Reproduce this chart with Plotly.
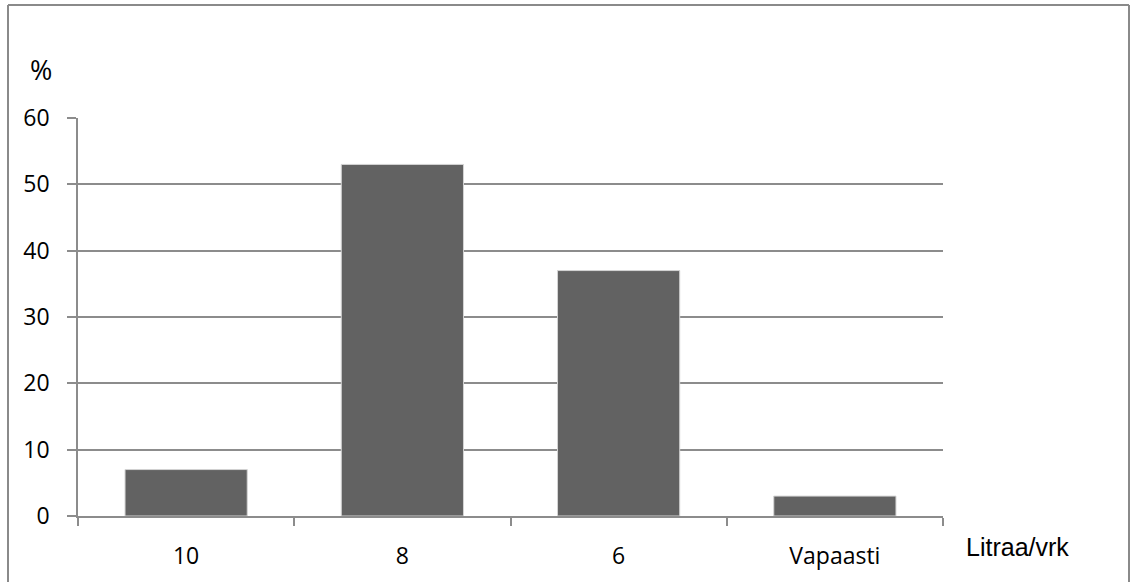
import plotly.graph_objects as go

categories = ["10", "8", "6", "Vapaasti"]
values = [7, 53, 37, 3]
y_ticks = [0, 10, 20, 30, 40, 50, 60]

W, H = 1132, 582
L, R, T, B = 78, 943, 118, 516

fig = go.Figure()
fig.add_trace(go.Bar(
    x=categories, y=values,
    marker=dict(color="#626262", line=dict(color="#d4d4d4", width=1)),
    width=0.565,
    hoverinfo="skip",
))

def px(x):
    return (x - L) / (R - L)

def py(y):
    return (B - y) / (B - T)

border = dict(color="#8a8a8a", width=2)
shapes = [
    dict(type="line", xref="paper", yref="paper", x0=px(8), x1=px(8), y0=py(5), y1=py(600), line=border),
    dict(type="line", xref="paper", yref="paper", x0=px(8), x1=px(1129), y0=py(5), y1=py(5), line=border),
    dict(type="line", xref="paper", yref="paper", x0=px(1129), x1=px(1129), y0=py(5), y1=py(600), line=border),
]

fig.update_layout(
    width=W, height=H,
    margin=dict(l=L, r=W - R, t=T, b=H - B, pad=0),
    paper_bgcolor="white", plot_bgcolor="white",
    showlegend=False,
    bargap=0.435,
    font=dict(family="Open Sans, Liberation Sans, sans-serif", color="#000000"),
    shapes=shapes,
    annotations=[
        dict(text="%", xref="paper", yref="paper", x=px(41), y=py(70), showarrow=False,
             font=dict(size=27, family="Open Sans, sans-serif", color="#000"), xanchor="center", yanchor="middle"),
        dict(text="Litraa/vrk", xref="paper", yref="paper", x=px(964), y=py(547), showarrow=False,
             font=dict(size=25, family="Liberation Sans, Arial, sans-serif", color="#000"), xanchor="left", yanchor="middle"),
    ],
)

fig.update_yaxes(
    range=[0, 60], tickvals=y_ticks, ticktext=[str(v) for v in y_ticks],
    showgrid=True, gridcolor="#8c8c8c", gridwidth=1.5,
    showline=True, linecolor="#8c8c8c", linewidth=1.5,
    ticks="outside", ticklen=9, tickcolor="#8c8c8c", tickwidth=1.5,
    tickfont=dict(size=23, family="Open Sans, sans-serif", color="#000"),
    ticklabelstandoff=13,
    zeroline=False,
)
fig.update_xaxes(
    type="category", tickson="boundaries",
    showgrid=False,
    showline=True, linecolor="#8c8c8c", linewidth=1.5,
    ticks="outside", ticklen=8, tickcolor="#8c8c8c", tickwidth=1.5,
    tickfont=dict(size=23, family="Open Sans, sans-serif", color="#000"),
    ticklabelstandoff=19,
)

fig.write_html("out.html", config={"displayModeBar": False},
               post_script="document.body.style.margin='0';")
